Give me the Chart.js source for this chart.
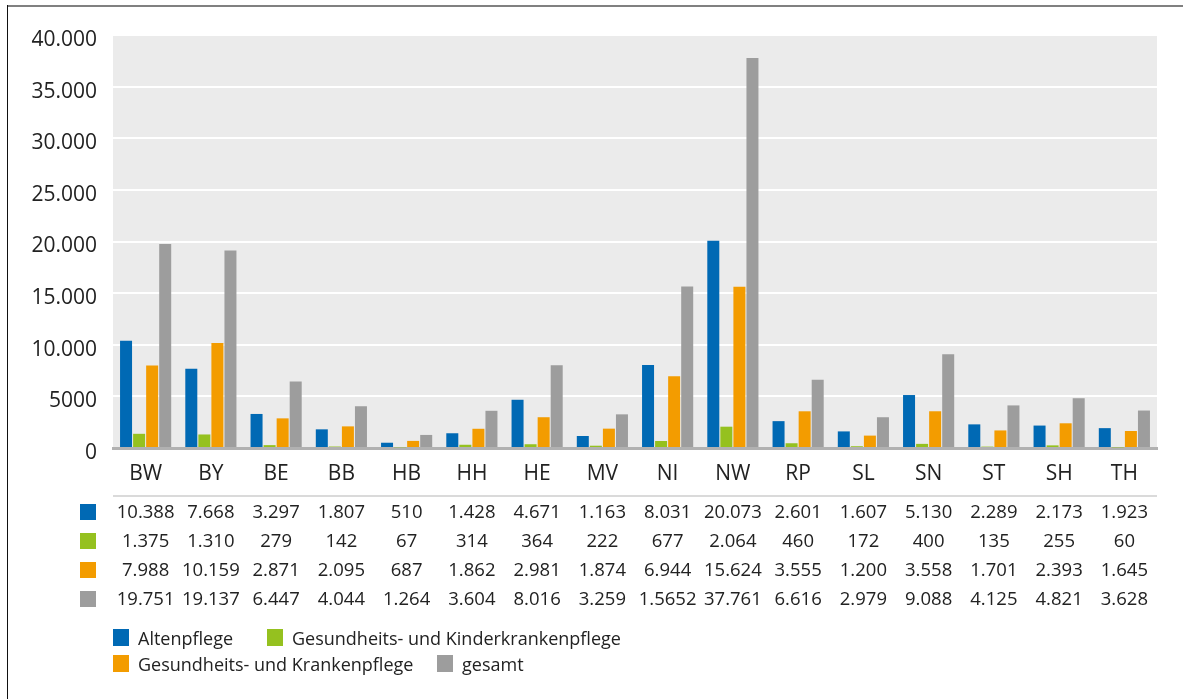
<!DOCTYPE html>
<html>
<head>
<meta charset="utf-8">
<script src="https://cdn.jsdelivr.net/npm/chart.js@4/dist/chart.umd.min.js"></script>
<style>
  html, body { margin: 0; padding: 0; background: #fff; }
  #wrap { position: relative; width: 1183px; height: 699px; }
</style>
</head>
<body>
<div id="wrap"><canvas id="c" width="1183" height="699"></canvas></div>
<script>
const laender = ['BW', 'BY', 'BE', 'BB', 'HB', 'HH', 'HE', 'MV', 'NI', 'NW', 'RP', 'SL', 'SN', 'ST', 'SH', 'TH'];

const altenpflege = [10388, 7668, 3297, 1807, 510, 1428, 4671, 1163, 8031, 20073, 2601, 1607, 5130, 2289, 2173, 1923];
const kinderkrankenpflege = [1375, 1310, 279, 142, 67, 314, 364, 222, 677, 2064, 460, 172, 400, 135, 255, 60];
const krankenpflege = [7988, 10159, 2871, 2095, 687, 1862, 2981, 1874, 6944, 15624, 3555, 1200, 3558, 1701, 2393, 1645];
const gesamt = [19751, 19137, 6447, 4044, 1264, 3604, 8016, 3259, 15652, 37761, 6616, 2979, 9088, 4125, 4821, 3628];

// the printed table has a typo for NI (bar is 15.652)
const gesamtPrinted = { 8: '1.5652' };

const yTicks = [0, 5000, 10000, 15000, 20000, 25000, 30000, 35000, 40000];

const seriesNames = ['Altenpflege', 'Gesundheits- und Kinderkrankenpflege', 'Gesundheits- und Krankenpflege', 'gesamt'];
const seriesColors = ['#0069b4', '#95c11f', '#f39c00', '#9d9d9d'];

const FONT = '"Open Sans", "Noto Sans", sans-serif';
const TEXT = '#222222';

function fmt(n) {
  return String(n).replace(/\B(?=(\d{3})+(?!\d))/g, '.');
}

const tablePlugin = {
  id: 'tablePlugin',
  beforeDraw(chart) {
    const { ctx, chartArea: a } = chart;
    ctx.save();
    ctx.fillStyle = '#ebebeb';
    ctx.fillRect(a.left, a.top, a.right - a.left, a.bottom - a.top);
    ctx.restore();
  },
  afterDraw(chart) {
    const { ctx, chartArea: a } = chart;
    const x = chart.scales.x;
    ctx.save();

    // frame
    ctx.fillStyle = '#808080';
    ctx.fillRect(7, 5, 1176, 2);
    ctx.fillStyle = '#111';
    ctx.fillRect(7, 5, 1, 694);

    // separator under the labels
    ctx.fillStyle = '#dadada';
    ctx.fillRect(a.left, 495, a.right - a.left, 2);

    // data table
    const rows = [altenpflege, kinderkrankenpflege, krankenpflege, gesamt];
    const rowY = [512, 541, 570, 599];
    ctx.font = '18.5px ' + FONT;
    ctx.textAlign = 'center';
    ctx.textBaseline = 'middle';
    rows.forEach((vals, r) => {
      ctx.fillStyle = seriesColors[r];
      ctx.fillRect(80, rowY[r] - 8, 16, 16);
      ctx.fillStyle = TEXT;
      vals.forEach((v, i) => {
        let s = fmt(v);
        if (r === 3 && gesamtPrinted[i]) s = gesamtPrinted[i];
        ctx.fillText(s, x.getPixelForValue(i), rowY[r] + 1);
      });
    });

    // legend
    const legendPos = [[113, 638], [267, 638], [113, 664], [437, 664]];
    ctx.font = '18px ' + FONT;
    ctx.textAlign = 'left';
    seriesNames.forEach((name, k) => {
      const [lx, ly] = legendPos[k];
      ctx.fillStyle = seriesColors[k];
      ctx.fillRect(lx, ly - 9, 16, 17);
      ctx.fillStyle = TEXT;
      ctx.fillText(name, lx + 25, ly + 2);
    });
    ctx.restore();
  }
};

new Chart(document.getElementById('c'), {
  type: 'bar',
  data: {
    labels: laender,
    datasets: seriesNames.map((name, k) => ({
      label: name,
      data: [altenpflege, kinderkrankenpflege, krankenpflege, gesamt][k],
      backgroundColor: seriesColors[k],
      borderWidth: 0,
      categoryPercentage: 0.8,
      barPercentage: 0.92
    }))
  },
  options: {
    responsive: false,
    animation: false,
    devicePixelRatio: 1,
    layout: { padding: { top: 35, right: 26, left: 0, bottom: 0 } },
    plugins: {
      legend: { display: false },
      tooltip: { enabled: false }
    },
    scales: {
      x: {
        grid: { display: false, drawTicks: false },
        border: { color: '#b1b1b1', width: 3 },
        ticks: { color: TEXT, font: { family: FONT, size: 21 }, padding: 13 },
        afterFit: s => { s.height = 699 - 448; }
      },
      y: {
        min: 0,
        max: 40000,
        afterBuildTicks: s => { s.ticks = yTicks.map(v => ({ value: v })); },
        grid: {
          color: c => (c.tick && c.tick.value === 0 ? 'rgba(0,0,0,0)' : '#ffffff'),
          lineWidth: 2,
          drawTicks: false
        },
        border: { display: false },
        ticks: {
          color: TEXT,
          font: { family: FONT, size: 21 },
          padding: 16,
          labelOffset: 5,
          callback: v => (v >= 10000 ? fmt(v) : String(v))
        },
        afterFit: s => { s.width = 113; }
      }
    }
  },
  plugins: [tablePlugin]
});
</script>
</body>
</html>
